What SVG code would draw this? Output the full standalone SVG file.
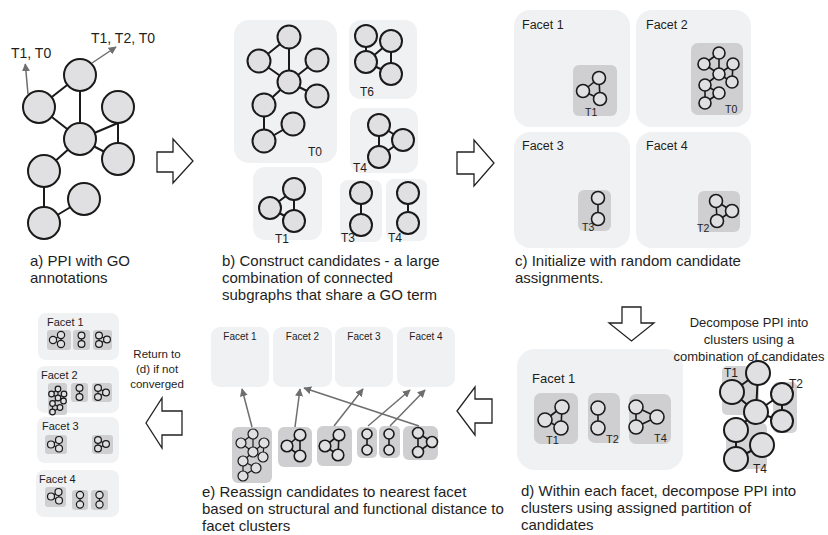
<svg xmlns="http://www.w3.org/2000/svg" width="828" height="535" viewBox="0 0 828 535">
<defs>
<style>
text{font-family:"Liberation Sans",Arial,sans-serif;fill:#1e1e1e}
.cap{font-size:15px}
.n{fill:#e0e0e2;stroke:#1a1a1a;stroke-width:2}
.ns{fill:#e0e0e2;stroke:#1a1a1a;stroke-width:1.6}
.nt{fill:#e0e0e2;stroke:#1a1a1a;stroke-width:1.2}
.e{fill:none;stroke:#1a1a1a;stroke-width:2}
.es{fill:none;stroke:#1a1a1a;stroke-width:1.6}
.et{fill:none;stroke:#1a1a1a;stroke-width:1.2}
.bg{fill:#f0f1f3}
.cd{fill:#cfcfd1}
.sh{fill:#d4d4d6}
.big{fill:#fff;stroke:#222;stroke-width:1.3}
.ar{fill:none;stroke:#6e6e6e;stroke-width:1.5;marker-end:url(#ah)}
</style>
<marker id="ah" viewBox="0 0 10 10" refX="9" refY="5" markerWidth="8" markerHeight="8" markerUnits="userSpaceOnUse" orient="auto">
<path d="M0,0 L10,5 L0,10 Z" fill="#6e6e6e"/>
</marker>
</defs>
<rect width="828" height="535" fill="#fff"/>

<!-- Panel a -->
<g id="panel-a">
<path class="e" d="M80,75L39,107M80,75L80,139M39,107L80,139M80,139L118,123M118,107L118,159M80,139L118,159M80,139L44,171M44,171L44,223M44,223L84,199"/>
<circle class="n" cx="80" cy="75" r="16"/>
<circle class="n" cx="39" cy="107" r="16"/>
<circle class="n" cx="118" cy="107" r="16"/>
<circle class="n" cx="80" cy="139" r="16"/>
<circle class="n" cx="118" cy="159" r="16"/>
<circle class="n" cx="44" cy="171" r="16"/>
<circle class="n" cx="84" cy="199" r="16"/>
<circle class="n" cx="44" cy="223" r="16"/>
<text x="11" y="58" font-size="14">T1, T0</text>
<text x="91" y="43" font-size="14">T1, T2, T0</text>
<text class="cap" x="30" y="266">a) PPI with GO</text>
<text class="cap" x="30" y="283">annotations</text>
</g>

<!-- Panel b -->
<g id="panel-b">
<rect class="bg" x="234" y="20" width="103" height="143" rx="15"/>
<rect class="bg" x="349" y="20" width="68" height="79" rx="12"/>
<rect class="bg" x="350" y="108" width="68" height="65" rx="12"/>
<rect class="bg" x="253" y="167" width="69" height="73" rx="12"/>
<rect class="bg" x="340" y="180" width="42" height="62" rx="8"/>
<rect class="bg" x="386" y="179" width="41" height="62" rx="8"/>
<path class="e" d="M289,37L259,61M289,37L289,82M259,61L289,82M289,82L317,60M289,82L317,96M289,82L264,105M264,105L264,141M264,141L293,124"/>
<circle class="n" cx="289" cy="37" r="11.5"/>
<circle class="n" cx="259" cy="61" r="11.5"/>
<circle class="n" cx="317" cy="60" r="11.5"/>
<circle class="n" cx="289" cy="82" r="11.5"/>
<circle class="n" cx="317" cy="96" r="11.5"/>
<circle class="n" cx="264" cy="105" r="11.5"/>
<circle class="n" cx="293" cy="124" r="11.5"/>
<circle class="n" cx="264" cy="141" r="11.5"/>
<text x="308" y="156" font-size="12">T0</text>
<path class="e" d="M366,37L366,62M366,62L391,41M391,41L391,74M366,62L391,74"/>
<circle class="n" cx="366" cy="36" r="11"/>
<circle class="n" cx="366" cy="62" r="11"/>
<circle class="n" cx="391" cy="41" r="11"/>
<circle class="n" cx="391" cy="74" r="11"/>
<text x="360" y="96" font-size="12">T6</text>
<path class="e" d="M379,125L379,157M379,125L403,140M379,157L403,140"/>
<circle class="n" cx="379" cy="125" r="11"/>
<circle class="n" cx="403" cy="140" r="11"/>
<circle class="n" cx="379" cy="157" r="11"/>
<text x="353" y="172" font-size="12">T4</text>
<path class="e" d="M294,190L294,221M270,208L294,190M270,208L294,221"/>
<circle class="n" cx="294" cy="189" r="11"/>
<circle class="n" cx="270" cy="208" r="11"/>
<circle class="n" cx="294" cy="221" r="11"/>
<text x="275" y="243" font-size="12">T1</text>
<path class="e" d="M361,193L361,225"/>
<circle class="n" cx="361" cy="193" r="11"/>
<circle class="n" cx="361" cy="225" r="11"/>
<text x="341" y="242" font-size="12">T3</text>
<path class="e" d="M408,193L408,223"/>
<circle class="n" cx="408" cy="193" r="11"/>
<circle class="n" cx="408" cy="223" r="11"/>
<text x="388" y="242" font-size="12">T4</text>
<text class="cap" x="222" y="266">b) Construct candidates - a large</text>
<text class="cap" x="222" y="283">combination of connected</text>
<text class="cap" x="222" y="300">subgraphs that share a GO term</text>
</g>

<!-- Panel c -->
<g id="panel-c">
<rect class="bg" x="514" y="10" width="116" height="117" rx="16"/>
<rect class="bg" x="636" y="10" width="115" height="117" rx="16"/>
<rect class="bg" x="514" y="132" width="116" height="116" rx="16"/>
<rect class="bg" x="636" y="132" width="115" height="116" rx="16"/>
<text x="522" y="29" font-size="12.5">Facet 1</text>
<text x="646" y="29" font-size="12.5">Facet 2</text>
<text x="522" y="150" font-size="12.5">Facet 3</text>
<text x="646" y="150" font-size="12.5">Facet 4</text>
<rect class="cd" x="573" y="65" width="44" height="51" rx="6"/>
<path class="es" d="M599,78L600,99M583,91L599,78M583,91L600,99"/>
<circle class="ns" cx="599" cy="78" r="6.5"/>
<circle class="ns" cx="583" cy="91" r="6.5"/>
<circle class="ns" cx="600" cy="99" r="6.5"/>
<text x="585" y="116" font-size="10.5">T1</text>
<rect class="cd" x="691" y="43" width="52" height="72" rx="7"/>
<path class="es" d="M719,53L704,64M719,53L719,74M704,64L719,74M719,74L733,64M719,74L732,82M733,64L732,82M719,74L705,85M705,85L705,103M705,103L719,93M705,85L719,93"/>
<circle class="ns" cx="719" cy="53" r="6"/>
<circle class="ns" cx="704" cy="64" r="6"/>
<circle class="ns" cx="733" cy="64" r="6"/>
<circle class="ns" cx="719" cy="74" r="6"/>
<circle class="ns" cx="732" cy="82" r="6"/>
<circle class="ns" cx="705" cy="85" r="6"/>
<circle class="ns" cx="719" cy="93" r="6"/>
<circle class="ns" cx="705" cy="103" r="6"/>
<text x="725" y="113" font-size="10.5">T0</text>
<rect class="cd" x="578" y="190" width="33" height="41" rx="6"/>
<path class="es" d="M598,198L598,219"/>
<circle class="ns" cx="598" cy="198" r="6.5"/>
<circle class="ns" cx="598" cy="219" r="6.5"/>
<text x="582" y="231" font-size="10.5">T3</text>
<rect class="cd" x="698" y="191" width="42" height="41" rx="6"/>
<path class="es" d="M716,201L717,221M716,201L732,211M717,221L732,211"/>
<circle class="ns" cx="716" cy="201" r="6.5"/>
<circle class="ns" cx="732" cy="211" r="6.5"/>
<circle class="ns" cx="717" cy="221" r="6.5"/>
<text x="697" y="232" font-size="10.5">T2</text>
<text class="cap" x="515" y="266">c) Initialize with random candidate</text>
<text class="cap" x="515" y="283">assignments.</text>
</g>

<!-- Panel d -->
<g id="panel-d">
<rect class="bg" x="517" y="349" width="166" height="121" rx="18"/>
<text x="532" y="383" font-size="13">Facet 1</text>
<rect class="cd" x="534" y="393" width="44" height="51" rx="7"/>
<path class="es" d="M562,407L561,428M545,420L562,407M545,420L561,428"/>
<circle class="ns" cx="562" cy="407" r="7"/>
<circle class="ns" cx="545" cy="420" r="7"/>
<circle class="ns" cx="561" cy="428" r="7"/>
<text x="546" y="444" font-size="11">T1</text>
<rect class="cd" x="588" y="393" width="32" height="50" rx="7"/>
<path class="es" d="M598,408L598,428"/>
<circle class="ns" cx="598" cy="408" r="7"/>
<circle class="ns" cx="598" cy="428" r="7"/>
<text x="606" y="443" font-size="11">T2</text>
<rect class="cd" x="629" y="394" width="42" height="50" rx="7"/>
<path class="es" d="M636,407L636,427M636,407L657,417M636,427L657,417"/>
<circle class="ns" cx="636" cy="407" r="7"/>
<circle class="ns" cx="657" cy="417" r="7"/>
<circle class="ns" cx="636" cy="427" r="7"/>
<text x="654" y="442" font-size="11">T4</text>
<text x="749" y="327" font-size="13" text-anchor="middle">Decompose PPI into</text>
<text x="749" y="344" font-size="13" text-anchor="middle">clusters using a</text>
<text x="749" y="361" font-size="13" text-anchor="middle">combination of candidates</text>
<rect class="sh" x="722" y="366" width="37" height="49" rx="5"/>
<rect class="sh" x="773" y="382" width="24" height="51" rx="5"/>
<rect class="sh" x="726" y="423" width="41" height="46" rx="5"/>
<path class="e" d="M758,373L732,392M758,373L756,412M732,392L756,412M756,412L782,394M782,394L782,421M756,412L782,421M756,412L736,430M736,430L736,459M736,459L762,445"/>
<circle class="n" cx="758" cy="373" r="12"/>
<circle class="n" cx="732" cy="392" r="12"/>
<circle class="n" cx="782" cy="394" r="11"/>
<circle class="n" cx="756" cy="412" r="12"/>
<circle class="n" cx="782" cy="421" r="11"/>
<circle class="n" cx="736" cy="430" r="12"/>
<circle class="n" cx="762" cy="445" r="12"/>
<circle class="n" cx="736" cy="459" r="12"/>
<text x="724" y="377" font-size="12">T1</text>
<text x="789" y="388" font-size="12">T2</text>
<text x="753" y="473" font-size="12">T4</text>
<text class="cap" x="521" y="496">d) Within each facet, decompose PPI into</text>
<text class="cap" x="521" y="513">clusters using assigned partition of</text>
<text class="cap" x="521" y="530">candidates</text>
</g>

<!-- Panel e -->
<g id="panel-e">
<rect class="bg" x="211" y="327" width="58" height="60" rx="9"/>
<rect class="bg" x="273" y="327" width="59" height="60" rx="9"/>
<rect class="bg" x="335" y="327" width="58" height="60" rx="9"/>
<rect class="bg" x="397" y="327" width="58" height="60" rx="9"/>
<text x="240" y="340" font-size="10" text-anchor="middle">Facet 1</text>
<text x="302.5" y="340" font-size="10" text-anchor="middle">Facet 2</text>
<text x="364" y="340" font-size="10" text-anchor="middle">Facet 3</text>
<text x="426" y="340" font-size="10" text-anchor="middle">Facet 4</text>
<rect class="cd" x="232" y="427" width="40" height="56" rx="6"/>
<path class="et" d="M253,434L241,443M253,434L253,452M241,443L253,452M253,452L264,443M264,443L263,457M253,452L263,457M253,452L243,461M243,461L243,476M243,476L256,468M243,461L256,468"/>
<circle class="nt" cx="253" cy="434" r="5"/>
<circle class="nt" cx="241" cy="443" r="5"/>
<circle class="nt" cx="264" cy="443" r="5"/>
<circle class="nt" cx="253" cy="452" r="5"/>
<circle class="nt" cx="263" cy="457" r="5"/>
<circle class="nt" cx="243" cy="461" r="5"/>
<circle class="nt" cx="256" cy="468" r="5"/>
<circle class="nt" cx="243" cy="476" r="5"/>
<rect class="cd" x="278" y="427" width="34" height="40" rx="6"/>
<path class="es" d="M300,435L300,456M287,446L300,435M287,446L300,456"/>
<circle class="ns" cx="300" cy="435" r="5.8"/>
<circle class="ns" cx="287" cy="446" r="5.8"/>
<circle class="ns" cx="300" cy="456" r="5.8"/>
<rect class="cd" x="317" y="426" width="35" height="40" rx="6"/>
<path class="es" d="M339,435L338,455M325,446L339,435M325,446L338,455"/>
<circle class="ns" cx="339" cy="435" r="5.8"/>
<circle class="ns" cx="325" cy="446" r="5.8"/>
<circle class="ns" cx="338" cy="455" r="5.8"/>
<rect class="cd" x="357" y="427" width="20" height="31" rx="5"/>
<path class="es" d="M367,434L367,450"/>
<circle class="ns" cx="367" cy="434" r="5"/>
<circle class="ns" cx="367" cy="450" r="5"/>
<rect class="cd" x="379" y="426" width="21" height="32" rx="5"/>
<path class="es" d="M389,434L389,450"/>
<circle class="ns" cx="389" cy="434" r="5"/>
<circle class="ns" cx="389" cy="450" r="5"/>
<rect class="cd" x="403" y="426" width="35" height="34" rx="6"/>
<path class="es" d="M418,433L418,452M418,433L432,442M418,452L432,442"/>
<circle class="ns" cx="418" cy="433" r="5.5"/>
<circle class="ns" cx="432" cy="442" r="5.5"/>
<circle class="ns" cx="418" cy="452" r="5.5"/>
<text class="cap" x="202" y="497">e) Reassign candidates to nearest facet</text>
<text class="cap" x="202" y="514">based on structural and functional distance to</text>
<text class="cap" x="202" y="531">facet clusters</text>
</g>

<!-- Left panel: converged facets -->
<g id="panel-f">
<rect class="bg" x="38" y="313" width="81" height="47" rx="8"/>
<rect class="bg" x="37" y="366" width="82" height="47" rx="8"/>
<rect class="bg" x="37" y="417" width="82" height="46" rx="8"/>
<rect class="bg" x="36" y="470" width="83" height="47" rx="8"/>
<text x="47" y="326" font-size="11">Facet 1</text>
<text x="41" y="379" font-size="11">Facet 2</text>
<text x="42" y="430" font-size="11">Facet 3</text>
<text x="39" y="483" font-size="11">Facet 4</text>
<rect class="cd" x="47" y="330" width="24" height="20" rx="3"/>
<rect class="cd" x="73" y="330" width="17" height="20" rx="3"/>
<rect class="cd" x="93" y="330" width="19" height="20" rx="3"/>
<path class="et" d="M53,340L61,335M53,340L61,344M61,335L61,344M81.5,335.5L81.5,344M99,335.5L99,344M99,335.5L107,339.5M99,344L107,339.5"/>
<circle class="nt" cx="53" cy="340" r="3.6"/>
<circle class="nt" cx="61" cy="335" r="3.6"/>
<circle class="nt" cx="61" cy="344" r="3.6"/>
<circle class="nt" cx="81.5" cy="335.5" r="3.4"/>
<circle class="nt" cx="81.5" cy="344" r="3.4"/>
<circle class="nt" cx="99" cy="335.5" r="3.4"/>
<circle class="nt" cx="107" cy="339.5" r="3.4"/>
<circle class="nt" cx="99" cy="344" r="3.4"/>
<rect class="cd" x="48" y="383" width="19" height="32" rx="3"/>
<rect class="cd" x="71" y="383" width="17" height="19" rx="3"/>
<rect class="cd" x="92" y="383" width="20" height="19" rx="3"/>
<path class="et" d="M58,389L51.5,394M58,389L58,398M51.5,394L58,398M58,398L64,394M64,394L63.5,401M58,398L63.5,401M58,398L52.5,403.5M52.5,403.5L52.5,412M52.5,412L60,407.5M52.5,403.5L60,407.5M79.5,388L79.5,397M98,388L98,397M98,388L106,392.5M98,397L106,392.5"/>
<circle class="nt" cx="58" cy="389" r="2.8"/>
<circle class="nt" cx="51.5" cy="394" r="2.8"/>
<circle class="nt" cx="64" cy="394" r="2.8"/>
<circle class="nt" cx="58" cy="398" r="2.8"/>
<circle class="nt" cx="63.5" cy="401" r="2.8"/>
<circle class="nt" cx="52.5" cy="403.5" r="2.8"/>
<circle class="nt" cx="60" cy="407.5" r="2.8"/>
<circle class="nt" cx="52.5" cy="412" r="2.8"/>
<circle class="nt" cx="79.5" cy="388" r="3.4"/>
<circle class="nt" cx="79.5" cy="397" r="3.4"/>
<circle class="nt" cx="98" cy="388" r="3.4"/>
<circle class="nt" cx="106" cy="392.5" r="3.4"/>
<circle class="nt" cx="98" cy="397" r="3.4"/>
<rect class="cd" x="45" y="435" width="22" height="19" rx="3"/>
<rect class="cd" x="92" y="435" width="21" height="19" rx="3"/>
<path class="et" d="M51,444.5L59,440M51,444.5L59,448.5M59,440L59,448.5M98,440L98,448.5M98,440L106,444M98,448.5L106,444"/>
<circle class="nt" cx="51" cy="444.5" r="3.5"/>
<circle class="nt" cx="59" cy="440" r="3.5"/>
<circle class="nt" cx="59" cy="448.5" r="3.5"/>
<circle class="nt" cx="98" cy="440" r="3.4"/>
<circle class="nt" cx="106" cy="444" r="3.4"/>
<circle class="nt" cx="98" cy="448.5" r="3.4"/>
<rect class="cd" x="45" y="487" width="21" height="20" rx="3"/>
<rect class="cd" x="72" y="490" width="16" height="20" rx="3"/>
<rect class="cd" x="91" y="490" width="17" height="20" rx="3"/>
<path class="et" d="M51,496.5L58.5,492M51,496.5L59,500.5M58.5,492L59,500.5M80,495L80,504.5M99.5,495L99.5,504.5"/>
<circle class="nt" cx="51" cy="496.5" r="3.5"/>
<circle class="nt" cx="58.5" cy="492" r="3.5"/>
<circle class="nt" cx="59" cy="500.5" r="3.5"/>
<circle class="nt" cx="80" cy="495" r="3.6"/>
<circle class="nt" cx="80" cy="504.5" r="3.6"/>
<circle class="nt" cx="99.5" cy="495" r="3.6"/>
<circle class="nt" cx="99.5" cy="504.5" r="3.6"/>
<text x="157" y="358" font-size="11.5" text-anchor="middle">Return to</text>
<text x="157" y="373" font-size="11.5" text-anchor="middle">(d) if not</text>
<text x="157" y="388" font-size="11.5" text-anchor="middle">converged</text>
</g>

<!-- Connectors -->
<g id="connectors">
<path class="ar" d="M28,94L25.3,64"/>
<path class="ar" d="M92,63L116,47"/>
<path class="ar" d="M252,427L242,389"/>
<path class="ar" d="M295,427L300,389"/>
<path class="ar" d="M334,426L363,389"/>
<path class="ar" d="M368,426L410,390"/>
<path class="ar" d="M390,426L425,390"/>
<path class="ar" d="M419,426L304,388"/>
<path class="big" d="M157,152L173,152L173,139L193,161L173,183L173,172L157,172Z"/>
<path class="big" d="M457,152L474,152L474,140L494,163L474,186L474,174L457,174Z"/>
<path class="big" d="M622,307L641,307L641,323L654,323L631.5,341L609,323L622,323Z"/>
<path class="big" d="M492,399L475,399L475,387L457,411L475,435L475,423L492,423Z"/>
<path class="big" d="M182,411L162,411L162,398L146,423L162,448L162,435L182,435Z"/>
</g>
</svg>
